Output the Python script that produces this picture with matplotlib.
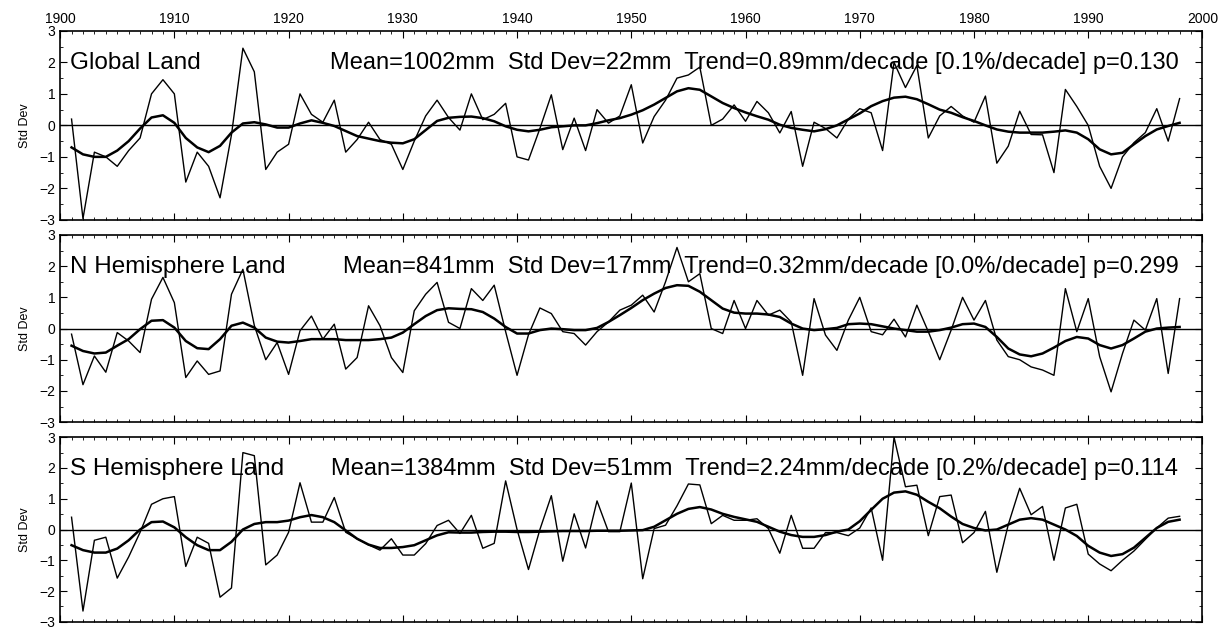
import matplotlib
matplotlib.use("Agg")
import matplotlib.pyplot as plt
from matplotlib.ticker import MultipleLocator

plt.rcParams["font.family"] = ["Liberation Sans", "DejaVu Sans"]

years = list(range(1901, 1999))

global_annual = [
    0.2, -2.96, -0.85, -1.0, -1.3, -0.8, -0.4, 1.0, 1.45, 1.0,
    -1.8, -0.85, -1.3, -2.3, -0.3, 2.45, 1.7, -1.4, -0.85, -0.6,
    1.0, 0.35, 0.1, 0.8, -0.85, -0.45, 0.1, -0.45, -0.6, -1.4,
    -0.5, 0.3, 0.8, 0.25, -0.15, 1.0, 0.18, 0.35, 0.7, -1.0,
    -1.1, -0.1, 0.97, -0.77, 0.23, -0.8, 0.5, 0.07, 0.3, 1.29,
    -0.56, 0.28, 0.8, 1.5, 1.6, 1.85, 0.0, 0.2, 0.65, 0.13,
    0.76, 0.4, -0.24, 0.44, -1.3, 0.1, -0.1, -0.4, 0.2, 0.53,
    0.4, -0.8, 2.0, 1.2, 1.9, -0.4, 0.3, 0.6, 0.3, 0.1,
    0.93, -1.2, -0.66, 0.45, -0.29, -0.3, -1.5, 1.14, 0.6, 0.0,
    -1.3, -2.0, -1.0, -0.55, -0.23, 0.53, -0.5, 0.85,
]
global_smooth = [
    -0.7, -0.92, -1.0, -1.0, -0.8, -0.5, -0.1, 0.25, 0.32, 0.08,
    -0.4, -0.7, -0.85, -0.65, -0.23, 0.06, 0.1, 0.03, -0.07, -0.07,
    0.06, 0.16, 0.08, -0.02, -0.18, -0.34, -0.42, -0.5, -0.55, -0.57,
    -0.44, -0.15, 0.14, 0.24, 0.27, 0.28, 0.23, 0.13, -0.03, -0.14,
    -0.19, -0.14, -0.06, -0.03, 0.0, 0.0, 0.07, 0.16, 0.23, 0.34,
    0.48, 0.66, 0.87, 1.08, 1.18, 1.13, 0.92, 0.71, 0.55, 0.41,
    0.29, 0.18, 0.02, -0.08, -0.14, -0.19, -0.12, 0.0, 0.19, 0.38,
    0.61, 0.77, 0.88, 0.91, 0.83, 0.67, 0.5, 0.4, 0.26, 0.14,
    0.0, -0.13, -0.2, -0.23, -0.23, -0.23, -0.2, -0.16, -0.23, -0.44,
    -0.76, -0.92, -0.87, -0.6, -0.34, -0.13, -0.02, 0.08,
]

nh_annual = [
    -0.18, -1.8, -0.88, -1.4, -0.13, -0.4, -0.77, 0.94, 1.64, 0.83,
    -1.57, -1.04, -1.47, -1.36, 1.1, 1.9, 0.1, -1.0, -0.45, -1.47,
    -0.07, 0.4, -0.34, 0.14, -1.3, -0.93, 0.73, 0.09, -0.93, -1.41,
    0.57, 1.1, 1.48, 0.2, 0.0, 1.28, 0.9, 1.39, -0.1, -1.5,
    -0.2, 0.66, 0.48, -0.1, -0.16, -0.53, -0.1, 0.21, 0.59, 0.75,
    1.07, 0.53, 1.5, 2.6, 1.5, 1.76, 0.0, -0.16, 0.9, 0.0,
    0.9, 0.43, 0.59, 0.21, -1.5, 0.96, -0.21, -0.7, 0.27, 1.0,
    -0.1, -0.2, 0.3, -0.27, 0.75, -0.1, -1.0, -0.05, 1.0, 0.27,
    0.9, -0.37, -0.9, -1.0, -1.23, -1.33, -1.5, 1.28, -0.1, 0.96,
    -0.9, -2.03, -0.8, 0.27, -0.05, 0.96, -1.44, 0.96,
]
nh_smooth = [
    -0.55, -0.72, -0.8, -0.77, -0.55, -0.34, -0.02, 0.25, 0.27, 0.03,
    -0.4, -0.63, -0.66, -0.34, 0.09, 0.19, 0.03, -0.29, -0.42, -0.45,
    -0.4, -0.34, -0.34, -0.34, -0.37, -0.37, -0.37, -0.34, -0.29, -0.13,
    0.14, 0.4, 0.59, 0.65, 0.63, 0.62, 0.53, 0.32, 0.05, -0.16,
    -0.16, -0.05, 0.0, -0.02, -0.05, -0.05, 0.02, 0.21, 0.43, 0.66,
    0.91, 1.12, 1.3, 1.39, 1.37, 1.18, 0.91, 0.64, 0.51, 0.48,
    0.48, 0.45, 0.37, 0.16, 0.0, -0.05, -0.02, 0.02, 0.14, 0.16,
    0.14, 0.07, 0.0, -0.05, -0.1, -0.1, -0.05, 0.03, 0.14, 0.16,
    0.05, -0.27, -0.64, -0.83, -0.89, -0.8, -0.61, -0.4, -0.27, -0.32,
    -0.53, -0.64, -0.53, -0.32, -0.1, 0.0, 0.03, 0.05,
]

sh_annual = [
    0.4, -2.65, -0.35, -0.25, -1.58, -0.89, -0.09, 0.82, 1.0, 1.07,
    -1.2, -0.25, -0.45, -2.2, -1.9, 2.5, 2.4, -1.15, -0.83, -0.09,
    1.52, 0.24, 0.24, 1.04, -0.09, -0.3, -0.5, -0.67, -0.3, -0.83,
    -0.83, -0.46, 0.13, 0.3, -0.13, 0.46, -0.61, -0.45, 1.58, 0.0,
    -1.3, 0.0, 1.1, -1.03, 0.51, -0.6, 0.93, -0.07, -0.07, 1.51,
    -1.6, 0.03, 0.14, 0.77, 1.48, 1.45, 0.19, 0.46, 0.3, 0.3,
    0.35, 0.03, -0.77, 0.46, -0.61, -0.61, -0.1, -0.1, -0.2, 0.05,
    0.7, -1.0, 3.0, 1.39, 1.44, -0.2, 1.07, 1.12, -0.43, -0.1,
    0.59, -1.39, 0.16, 1.34, 0.48, 0.75, -1.0, 0.7, 0.82, -0.8,
    -1.12, -1.34, -1.0, -0.7, -0.32, 0.05, 0.37, 0.43,
]
sh_smooth = [
    -0.51, -0.67, -0.75, -0.75, -0.62, -0.35, 0.0, 0.24, 0.26, 0.07,
    -0.25, -0.51, -0.67, -0.67, -0.4, 0.0, 0.18, 0.24, 0.24, 0.29,
    0.4, 0.47, 0.4, 0.24, -0.03, -0.3, -0.49, -0.6, -0.6, -0.57,
    -0.51, -0.35, -0.19, -0.09, -0.1, -0.1, -0.08, -0.07, -0.07, -0.08,
    -0.08, -0.07, -0.06, -0.05, -0.05, -0.05, -0.04, -0.04, -0.04, -0.03,
    -0.02, 0.09, 0.3, 0.51, 0.67, 0.73, 0.65, 0.51, 0.41, 0.33,
    0.25, 0.09, -0.07, -0.18, -0.24, -0.24, -0.18, -0.07, 0.0, 0.27,
    0.64, 1.0, 1.2, 1.24, 1.13, 0.9, 0.69, 0.42, 0.18, 0.05,
    -0.03, 0.0, 0.16, 0.32, 0.37, 0.32, 0.16, 0.0, -0.21, -0.53,
    -0.75, -0.86, -0.8, -0.59, -0.27, 0.05, 0.25, 0.32,
]

names = ["Global Land", "N Hemisphere Land", "S Hemisphere Land"]
stats = [
    "Mean=1002mm  Std Dev=22mm  Trend=0.89mm/decade [0.1%/decade] p=0.130",
    "Mean=841mm  Std Dev=17mm  Trend=0.32mm/decade [0.0%/decade] p=0.299",
    "Mean=1384mm  Std Dev=51mm  Trend=2.24mm/decade [0.2%/decade] p=0.114",
]
annual = [global_annual, nh_annual, sh_annual]
smooth = [global_smooth, nh_smooth, sh_smooth]

fig = plt.figure(figsize=(12.27, 6.3), dpi=100)
boxes = [
    [0.049, 0.651, 0.931, 0.300],
    [0.049, 0.330, 0.931, 0.297],
    [0.049, 0.013, 0.931, 0.293],
]

for i in range(3):
    ax = fig.add_axes(boxes[i])
    ax.plot(years, annual[i], color="black", lw=1.0)
    ax.plot(years, smooth[i], color="black", lw=1.8)
    ax.axhline(0, color="black", lw=1.0)
    ax.set_xlim(1900, 2000)
    ax.set_ylim(-3, 3)
    ax.xaxis.set_major_locator(MultipleLocator(10))
    ax.xaxis.set_minor_locator(MultipleLocator(1))
    ax.yaxis.set_major_locator(MultipleLocator(1))
    ax.yaxis.set_minor_locator(MultipleLocator(0.5))
    ax.tick_params(which="both", direction="in", top=True, right=True,
                   labelbottom=False, labeltop=(i == 0), labelsize=10)
    ax.tick_params(which="major", length=5)
    ax.tick_params(which="minor", length=2.5)
    ax.set_ylabel("Std Dev", fontsize=9, labelpad=6)
    ax.text(0.009, 0.83, names[i], transform=ax.transAxes, fontsize=17.5,
            va="center", ha="left")
    ax.text(0.979, 0.83, stats[i], transform=ax.transAxes, fontsize=17,
            va="center", ha="right")
    for s in ax.spines.values():
        s.set_linewidth(1.2)

fig.savefig("out.png", dpi=100)
